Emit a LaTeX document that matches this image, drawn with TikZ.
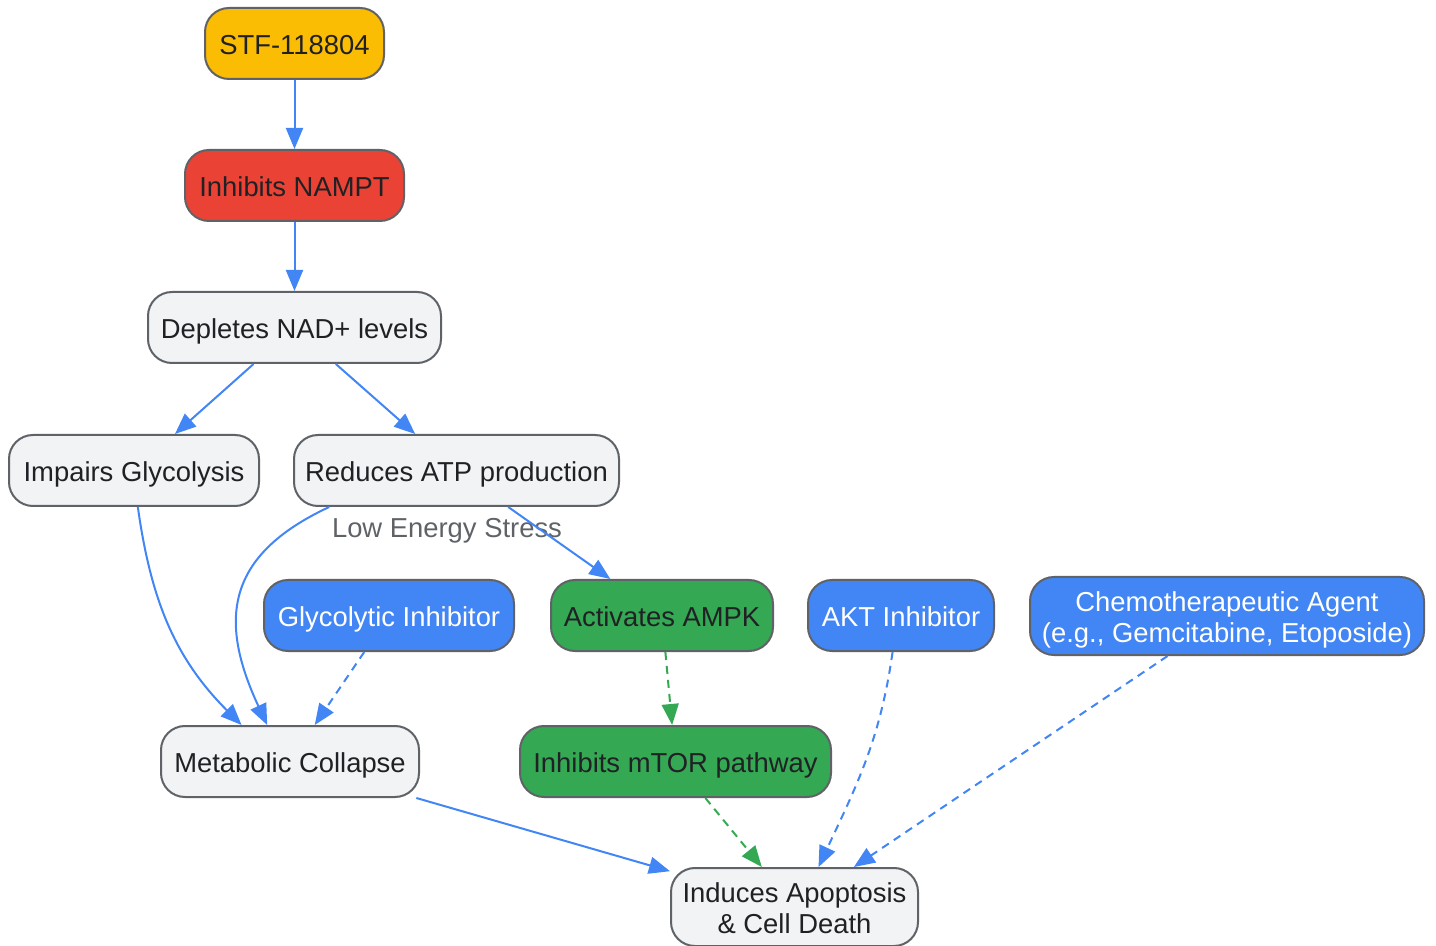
\documentclass[tikz,border=0pt]{standalone}
\usepackage{fontspec}
\setmainfont{Liberation Sans}
\usetikzlibrary{arrows.meta}

% Palette
\definecolor{paleGray}{HTML}{F1F3F4}
\definecolor{rimGray}{HTML}{5F6368}
\definecolor{inkDark}{HTML}{202124}
\definecolor{drugBlue}{HTML}{4285F4}
\definecolor{leafGreen}{HTML}{34A853}
\definecolor{alarmRed}{HTML}{EA4335}
\definecolor{amberYellow}{HTML}{FBBC04}

\begin{document}
\begin{tikzpicture}[x=0.5pt,y=-0.5pt,
    oneLine/.style={text height=12.6pt, text depth=1.9pt},
    twoLine/.style={text height=28.5pt, text depth=1.8pt, minimum height=39pt},
    box/.style={draw=rimGray, line width=1pt, rounded corners=12pt,
      minimum height=35.5pt, inner sep=0pt, align=center, text=inkDark,
      font=\fontsize{13.7}{15.5}\selectfont, oneLine},
    stepGray/.style={box, fill=paleGray},
    drugBox/.style={box, fill=drugBlue, text=white},
    greenBox/.style={box, fill=leafGreen},
    flow/.style={draw=drugBlue, line width=1pt,
      -{Triangle[length=10.5pt,width=8.5pt]}},
    dashFlow/.style={flow, dash pattern=on 4pt off 3pt},
    greenFlow/.style={dashFlow, draw=leafGreen}]
  % Canvas size of the reference
  \useasboundingbox (0,0) rectangle (1436,946);

  % Main chain
  \node[box, fill=amberYellow, minimum width=89.5pt] (stf) at (294.5,43.5) {STF-118804};
  \node[box, fill=alarmRed, minimum width=109.5pt] (nampt) at (294.5,185.5) {Inhibits NAMPT};
  \node[stepGray, minimum width=146.5pt] (nad) at (294.5,327.5) {Depletes NAD+ levels};
  \node[stepGray, minimum width=125pt] (glyc) at (134,470.5) {Impairs Glycolysis};
  \node[stepGray, minimum width=162.5pt] (atp) at (456.5,470.5) {Reduces ATP production};

  % Middle row
  \node[drugBox, minimum width=125pt] (glycInh) at (389,615.5) {Glycolytic Inhibitor};
  \node[greenBox, minimum width=111pt] (ampk) at (662,615.5) {Activates AMPK};
  \node[drugBox, minimum width=93pt] (akt) at (901,615.5) {AKT Inhibitor};
  \node[drugBox, twoLine, minimum width=197pt] (chemo) at (1227,616)
    {Chemotherapeutic Agent\\(e.g., Gemcitabine, Etoposide)};

  % Lower rows
  \node[stepGray, minimum width=129pt] (meta) at (290,761.5) {Metabolic Collapse};
  \node[greenBox, minimum width=155.5pt] (mtor) at (675.5,761.5) {Inhibits mTOR pathway};
  \node[stepGray, twoLine, minimum width=123.5pt] (apop) at (794.5,907)
    {Induces Apoptosis\\\& Cell Death};

  % Edge label
  \node[text=rimGray, inner sep=0pt, oneLine, font=\fontsize{13.7}{15.5}\selectfont]
    (stress) at (447,526.6) {Low Energy Stress};

  % Connectors
  \draw[flow] (stf) -- (nampt);
  \draw[flow] (nampt) -- (nad);
  \draw[flow] (nad) -- (glyc);
  \draw[flow] (nad) -- (atp);
  \draw[flow] (glyc.-84) to[out=-82, in=135] (meta.143);
  \draw[flow] (atp.196.5) to[out=205, in=115, looseness=1.3] (meta.122);
  \draw[flow] (atp) -- (ampk);
  \draw[dashFlow] (glycInh) -- (meta);
  \draw[greenFlow] (ampk) -- (mtor);
  \draw[flow] (meta) -- (apop);
  \draw[greenFlow] (mtor) -- (apop);
  \draw[dashFlow] (akt.-103) to[out=-98, in=65] (apop.59);
  \draw[dashFlow] (chemo) -- (apop);
\end{tikzpicture}
\end{document}
